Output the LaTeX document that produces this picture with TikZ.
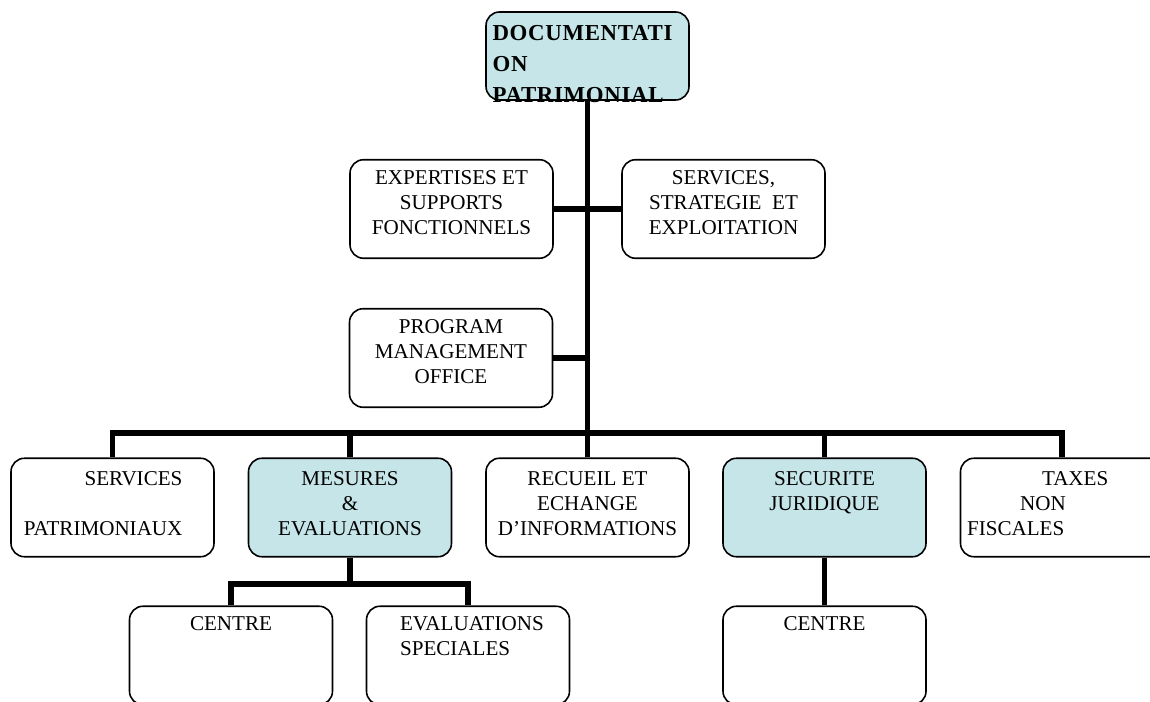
\documentclass[tikz,border=0pt]{standalone}
\usepackage{fontspec}
\setmainfont{Liberation Serif}
\newfontfamily\racinefont[LetterSpace=3]{Liberation Serif}
\usepackage{tikz}
\usetikzlibrary{positioning}
\definecolor{OrgCyan}{RGB}{197,229,232}
\tikzset{%
  boite/.style  ={rectangle, draw=black, line width=0.9pt, rounded corners=0.27cm,
                  fill=white, minimum width=4.06cm, minimum height=1.97cm, inner sep=0pt},
  boiteb/.style ={boite, fill=OrgCyan},
  txt/.style    ={inner sep=0pt, align=center, font=\fontsize{12}{14.2}\selectfont},
  racine/.style ={txt, align=left, font=\racinefont\bfseries\fontsize{13}{17.6}\selectfont},
  lien/.style   ={-, draw=black, line width=3pt}
}

\begin{document}
\begin{tikzpicture}
  \useasboundingbox (0,0) rectangle (23,-14.04);
  % boites
  \node[boiteb, minimum height=1.76cm] (doc) at (11.75,-1.12) {};
  \node[boite] (exp) at (9.03,-4.18) {};
  \node[boite] (ssx) at (14.47,-4.18) {};
  \node[boite] (pmo) at (9.02,-7.16) {};
  \node[boite]  (sp) at (2.25,-10.15) {};
  \node[boiteb] (me) at (7.0,-10.15) {};
  \node[boite]  (re) at (11.75,-10.15) {};
  \node[boiteb] (sj) at (16.49,-10.15) {};
  \node[boite]  (tx) at (21.24,-10.15) {};
  \node[boite] (c1) at (4.62,-13.11) {};
  \node[boite] (es) at (9.36,-13.11) {};
  \node[boite] (c2) at (16.49,-13.11) {};
  % textes
  \node[racine, anchor=north west] (tdoc) at ([xshift=0.14cm,yshift=-0.28cm]doc.north west) {DOCUMENTATI\\ON\\PATRIMONIAL};
  \node[txt, below=0.22cm of exp.north] (texp) {EXPERTISES ET\\SUPPORTS\\FONCTIONNELS};
  \node[txt, below=0.22cm of ssx.north] (tssx) {SERVICES,\\STRATEGIE\ \ ET\\EXPLOITATION};
  \node[txt, below=0.22cm of pmo.north] (tpmo) {PROGRAM\\MANAGEMENT\\OFFICE};
  \node[txt, align=right, anchor=north east] (tsp) at ([xshift=-0.64cm,yshift=-0.28cm]sp.north east) {SERVICES\\[14.2pt]PATRIMONIAUX};
  \node[txt, below=0.28cm of me.north] (tme) {MESURES\\\&\\EVALUATIONS};
  \node[txt, below=0.28cm of re.north] (tre) {RECUEIL ET\\ECHANGE\\D’INFORMATIONS};
  \node[txt, below=0.28cm of sj.north] (tsj) {SECURITE\\JURIDIQUE};
  \node[txt, align=left, anchor=north west] (ttx) at ([xshift=0.14cm,yshift=-0.28cm]tx.north west) {\hspace*{1.5cm}TAXES\\\hspace*{1.06cm}NON\\FISCALES};
  \node[txt, below=0.22cm of c1.north] (tc1) {CENTRE};
  \node[txt, align=left, anchor=north west] (tes) at ([xshift=0.68cm,yshift=-0.22cm]es.north west) {EVALUATIONS\\SPECIALES};
  \node[txt, below=0.22cm of c2.north] (tc2) {CENTRE};
  % liens
  \coordinate (bus) at (11.75,-8.66);
  \coordinate (sbus) at (7.0,-11.68);
  \draw[lien] (doc.south) -- (doc.south |- bus);
  \foreach \b in {sp,me,re,sj,tx}{\draw[lien] (doc.south |- bus) -| (\b.north);}
  \draw[lien] (exp.east) -- (ssx.west);
  \draw[lien] (pmo.east) -- (pmo.east -| doc.south);
  \draw[lien] (me.south) -- (me.south |- sbus);
  \foreach \b in {c1,es}{\draw[lien] (me.south |- sbus) -| (\b.north);}
  \draw[lien] (sj.south) -- (c2.north);
\end{tikzpicture}
\end{document}
